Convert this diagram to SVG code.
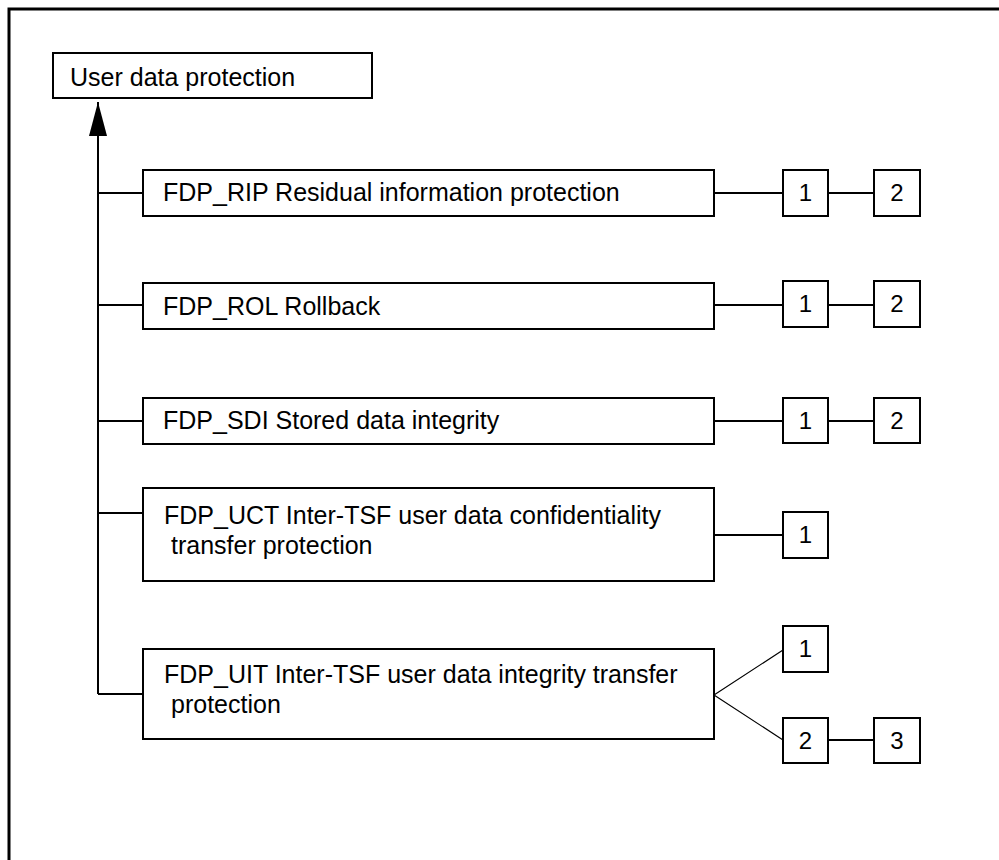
<svg xmlns="http://www.w3.org/2000/svg" width="999" height="860" viewBox="0 0 999 860">
<style>
.box{fill:#fff;stroke:#000;stroke-width:2}
.lbl{font-family:"Liberation Sans",Arial,sans-serif;font-size:25px;fill:#000}
.num{font-family:"Liberation Sans",Arial,sans-serif;font-size:24px;fill:#000;text-anchor:middle}
.con{fill:none;stroke:#000;stroke-width:2}
.thin{fill:none;stroke:#000;stroke-width:1.2}
</style>
<defs>
<marker id="arr" viewBox="0 0 34 18" refX="34" refY="9" markerWidth="34" markerHeight="18" markerUnits="userSpaceOnUse" orient="auto">
<path d="M0,0 L34,9 L0,18 z" fill="#000"/>
</marker>
</defs>
<rect width="999" height="860" fill="#fff"/>
<path d="M9,860 L9,9 L999,9" fill="none" stroke="#000" stroke-width="3"/>
<g id="connectors">
<path class="con" d="M98,694 L98,102" marker-end="url(#arr)"/>
<path class="con" d="M98,193 H143 M98,305 H143 M98,421 H143 M98,513 H143 M98,694 H143"/>
<path class="con" d="M714,193 H783 M828,193 H874"/>
<path class="con" d="M714,305 H783 M828,305 H874"/>
<path class="con" d="M714,421 H783 M828,421 H874"/>
<path class="con" d="M714,535 H783"/>
<path class="thin" d="M714,695 L783,650 M714,695 L783,740"/>
<path class="con" d="M828,740 H874"/>
</g>
<g id="root">
<rect class="box" x="53" y="53" width="319" height="45"/>
<text class="lbl" x="70" y="86">User data protection</text>
</g>
<g id="fdp_rip">
<rect class="box" x="143" y="170" width="571" height="46"/>
<text class="lbl" x="163" y="201">FDP_RIP Residual information protection</text>
</g>
<g id="fdp_rip_1"><rect class="box" x="783" y="170" width="45" height="46"/><text class="num" x="805.5" y="201">1</text></g>
<g id="fdp_rip_2"><rect class="box" x="874" y="170" width="46" height="46"/><text class="num" x="897" y="201">2</text></g>
<g id="fdp_rol">
<rect class="box" x="143" y="283" width="571" height="46"/>
<text class="lbl" x="163" y="315">FDP_ROL Rollback</text>
</g>
<g id="fdp_rol_1"><rect class="box" x="783" y="281" width="45" height="46"/><text class="num" x="805.5" y="312">1</text></g>
<g id="fdp_rol_2"><rect class="box" x="874" y="281" width="46" height="46"/><text class="num" x="897" y="312">2</text></g>
<g id="fdp_sdi">
<rect class="box" x="143" y="398" width="571" height="46"/>
<text class="lbl" x="163" y="429">FDP_SDI Stored data integrity</text>
</g>
<g id="fdp_sdi_1"><rect class="box" x="783" y="398" width="45" height="45"/><text class="num" x="805.5" y="429">1</text></g>
<g id="fdp_sdi_2"><rect class="box" x="874" y="398" width="46" height="45"/><text class="num" x="897" y="429">2</text></g>
<g id="fdp_uct">
<rect class="box" x="143" y="488" width="571" height="93"/>
<text class="lbl" x="164" y="524">FDP_UCT Inter-TSF user data confidentiality</text>
<text class="lbl" x="171" y="554">transfer protection</text>
</g>
<g id="fdp_uct_1"><rect class="box" x="783" y="512" width="45" height="46"/><text class="num" x="805.5" y="543">1</text></g>
<g id="fdp_uit">
<rect class="box" x="143" y="649" width="571" height="90"/>
<text class="lbl" x="164" y="683">FDP_UIT Inter-TSF user data integrity transfer</text>
<text class="lbl" x="171" y="713">protection</text>
</g>
<g id="fdp_uit_1"><rect class="box" x="783" y="626" width="45" height="46"/><text class="num" x="805.5" y="657">1</text></g>
<g id="fdp_uit_2"><rect class="box" x="783" y="718" width="45" height="45"/><text class="num" x="805.5" y="749">2</text></g>
<g id="fdp_uit_3"><rect class="box" x="874" y="718" width="46" height="45"/><text class="num" x="897" y="749">3</text></g>
</svg>
